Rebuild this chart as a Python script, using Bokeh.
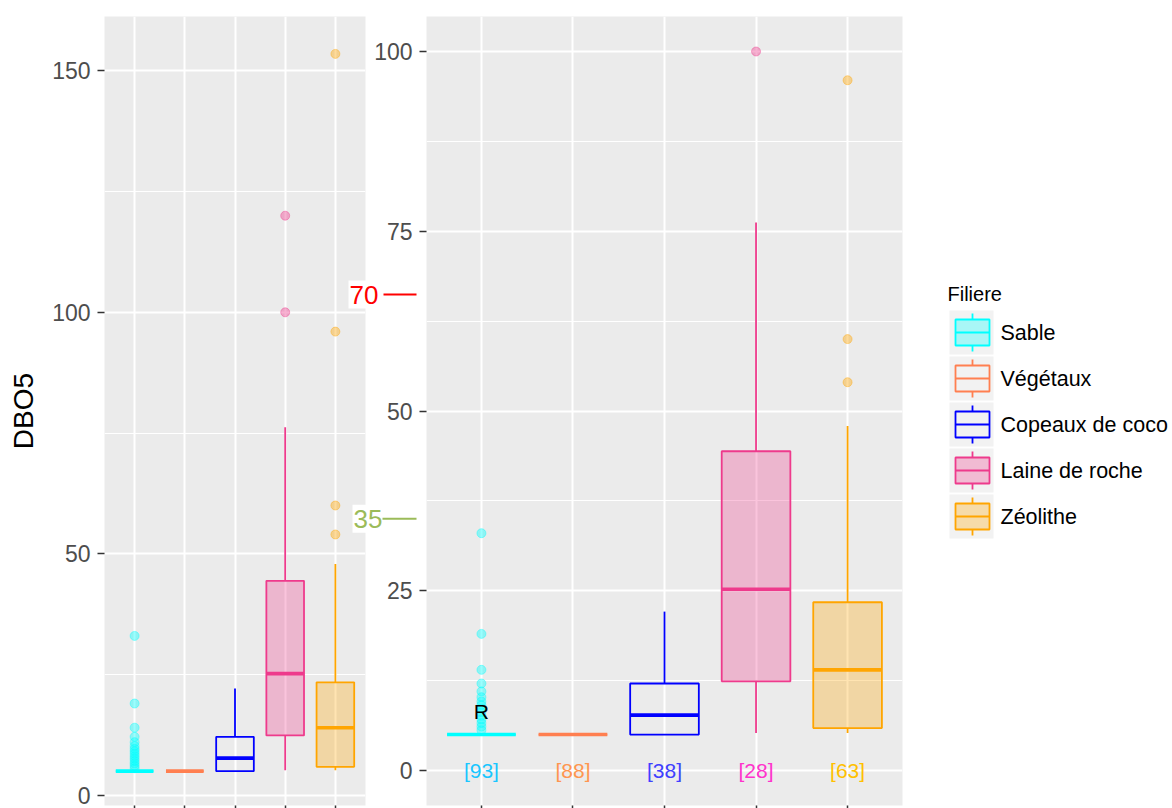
from bokeh.plotting import figure
from bokeh.layouts import row
from bokeh.models import Range1d, FixedTicker
from bokeh.core.properties import value
from bokeh.embed import file_html
from bokeh.resources import INLINE

# ---------------- data ----------------
categories = ["Sable", "Végétaux", "Copeaux de coco", "Laine de roche", "Zéolithe"]
line_colors = ["#00FFFF", "#FF7F50", "#0000FF", "#EE3A8C", "#FFA500"]
fill_alphas = [0.3, 0.0, 0.0, 0.3, 0.3]

q1 = [5.0, 5.0, 5.0, 12.4, 5.9]
median = [5.0, 5.0, 7.7, 25.2, 14.0]
q3 = [5.0, 5.0, 12.1, 44.4, 23.4]
whisker_low = [5.0, 5.0, 5.0, 5.2, 5.2]
whisker_high = [5.0, 5.0, 22.1, 76.2, 47.9]

sable_outliers = [33.0, 19.0, 14.0, 12.1, 11.0, 10.2, 9.6, 9.1, 8.6, 8.1, 7.6, 7.1, 6.6, 6.1, 5.6]
vegetaux_outliers = []
copeaux_outliers = []
laine_outliers = [100.0, 120.0]
zeolithe_outliers = [54.0, 60.0, 96.0, 153.5]
all_outliers = [sable_outliers, vegetaux_outliers, copeaux_outliers, laine_outliers, zeolithe_outliers]

counts = [93, 88, 38, 28, 63]
count_colors = ["#1AC6FF", "#FF9650", "#4040FF", "#FF33CC", "#FFC000"]

r_label = "R"
r_label_y = 8.2

left_yticks = [0, 50, 100, 150]
left_yminor = [25, 75, 125]
right_yticks = [0, 25, 50, 75, 100]
right_yminor = [12.5, 37.5, 62.5, 87.5]

ann_texts = ["70", "35"]
ann_colors = ["#FF0000", "#9BBB59"]
ann_y = [66.2, 35.0]          # where the hand-placed marks sit on the right panel's scale

FONT = "Liberation Sans"
xs = [i + 1 for i in range(len(categories))]
H = 808
TOP, BOTTOM = 16, 805          # frame edges (shared by all plots of the row)


def style_panel(p, yticks, yminor):
    p.background_fill_color = "#EBEBEB"
    p.border_fill_alpha = 0
    p.outline_line_color = None
    xt = FixedTicker(ticks=xs)
    yt = FixedTicker(ticks=yticks, minor_ticks=yminor)
    p.xaxis.ticker = xt
    p.xgrid.ticker = xt
    p.yaxis.ticker = yt
    p.ygrid.ticker = yt
    p.xgrid.grid_line_color = "white"
    p.xgrid.grid_line_width = 2
    p.ygrid.grid_line_color = "white"
    p.ygrid.grid_line_width = 2
    p.ygrid.minor_grid_line_color = "white"
    p.ygrid.minor_grid_line_width = 1.1
    for ax in (p.xaxis, p.yaxis):
        ax.axis_line_color = None
        ax.minor_tick_line_color = None
        ax.major_tick_in = 0
        ax.major_tick_line_color = "#333333"
        ax.major_tick_line_width = 1.5
    p.xaxis.major_tick_out = 3
    p.xaxis.major_label_text_font_size = "0px"
    p.xaxis.major_label_standoff = 0
    p.xaxis.major_label_overrides = {x: "" for x in xs}
    p.yaxis.major_tick_out = 7
    p.yaxis.major_label_standoff = 7
    p.yaxis.major_label_text_font = FONT
    p.yaxis.major_label_text_font_size = "23px"
    p.yaxis.major_label_text_color = "#4D4D4D"


def draw_boxes(p):
    for i, vals in enumerate(all_outliers):
        if vals:
            p.scatter([xs[i]] * len(vals), vals, size=9, fill_color=line_colors[i],
                      fill_alpha=0.4, line_color=line_colors[i], line_alpha=0.4)
    p.segment(x0=xs, x1=xs, y0=q3, y1=whisker_high, line_color=line_colors, line_width=1.8)
    p.segment(x0=xs, x1=xs, y0=q1, y1=whisker_low, line_color=line_colors, line_width=1.8)
    p.vbar(x=xs, width=0.75, bottom=q1, top=q3, fill_color=line_colors, fill_alpha=fill_alphas,
           line_color=line_colors, line_width=1.8)
    p.segment(x0=[x - 0.375 for x in xs], x1=[x + 0.375 for x in xs], y0=median, y1=median,
              line_color=line_colors, line_width=3.6)


# ---------------- left panel ----------------
L_ZERO_PX, L_SCALE = 794.8, 4.83   # pixel of y=0 and px per unit
left = figure(width=368, height=H, output_backend="svg", toolbar_location=None,
              x_range=Range1d(0.4, 5.6),
              y_range=Range1d(-(BOTTOM - L_ZERO_PX) / L_SCALE, (L_ZERO_PX - TOP) / L_SCALE),
              min_border_left=104, min_border_right=3, min_border_top=TOP, min_border_bottom=H - BOTTOM)
style_panel(left, left_yticks, left_yminor)
left.yaxis.axis_label = "DBO5"
left.yaxis.axis_label_text_font = FONT
left.yaxis.axis_label_text_font_size = "28px"
left.yaxis.axis_label_text_font_style = "normal"
left.yaxis.axis_label_text_color = "#000000"
left.yaxis.axis_label_standoff = 10
draw_boxes(left)

# ---------------- right panel ----------------
R_ZERO_PX, R_SCALE = 770.0, 7.19
right_y = Range1d((R_ZERO_PX - BOTTOM) / R_SCALE, (R_ZERO_PX - TOP) / R_SCALE)

right = figure(width=570, height=H, output_backend="svg", toolbar_location=None,
               x_range=Range1d(0.4, 5.6), y_range=right_y,
               min_border_left=86, min_border_right=8, min_border_top=TOP, min_border_bottom=H - BOTTOM)
style_panel(right, right_yticks, right_yminor)
draw_boxes(right)
right.text(x=xs, y=[0] * len(xs), text=["[%d]" % c for c in counts], text_color=count_colors,
           text_font=value(FONT), text_font_size="21px", text_align="center", text_baseline="middle")
right.text(x=[xs[0]], y=[r_label_y], text=[r_label], text_color="#000000",
           text_font=value(FONT), text_font_size="21px", text_align="center", text_baseline="middle")
right.margin = (0, 0, 0, -80)

# ---------------- hand-placed threshold marks (overlay strip between panels) ----------------
annot = figure(width=80, height=H, output_backend="svg", toolbar_location=None,
               x_range=Range1d(0, 80), y_range=right_y,
               min_border=0, min_border_left=0, min_border_right=0,
               min_border_top=TOP, min_border_bottom=H - BOTTOM)
annot.axis.visible = False
annot.grid.visible = False
annot.outline_line_color = None
annot.background_fill_alpha = 0
annot.border_fill_alpha = 0
half_h = 14 / R_SCALE
ann_text_x = [9, 13]
annot.quad(left=[x - 1 for x in ann_text_x], right=[x + 30 for x in ann_text_x],
           bottom=[y - half_h for y in ann_y], top=[y + half_h for y in ann_y],
           fill_color="white", line_color=None)
annot.text(x=ann_text_x, y=ann_y, text=ann_texts, text_color=ann_colors, text_font=value(FONT),
           text_font_size="26px", text_align="left", text_baseline="middle")
annot.segment(x0=[43, 42], x1=[76, 76], y0=ann_y, y1=ann_y, line_color=ann_colors, line_width=2)
annot.margin = (0, 0, 0, -28)

# ---------------- legend ----------------
LW = 258
leg = figure(width=LW, height=H, output_backend="svg", toolbar_location=None,
             x_range=Range1d(0, LW), y_range=Range1d(BOTTOM, TOP),
             min_border=0, min_border_left=0, min_border_right=0,
             min_border_top=TOP, min_border_bottom=H - BOTTOM)
leg.axis.visible = False
leg.grid.visible = False
leg.outline_line_color = None
leg.background_fill_color = "white"
leg.border_fill_color = "white"

row_tops = [310 + 46 * i for i in range(len(categories))]
centers = [t + 22 for t in row_tops]
leg.quad(left=39, right=83, top=row_tops, bottom=[t + 44 for t in row_tops],
         fill_color="#F2F2F2", line_color=None)
leg.segment(x0=62, x1=62, y0=[c - 19 for c in centers], y1=[c - 13 for c in centers],
            line_color=line_colors, line_width=1.8)
leg.segment(x0=62, x1=62, y0=[c + 13 for c in centers], y1=[c + 19 for c in centers],
            line_color=line_colors, line_width=1.8)
leg.quad(left=45, right=79, top=[c - 13 for c in centers], bottom=[c + 13 for c in centers],
         fill_color=line_colors, fill_alpha=fill_alphas, line_color=line_colors, line_width=1.8)
leg.segment(x0=45, x1=79, y0=centers, y1=centers, line_color=line_colors, line_width=1.8)
leg.text(x=90, y=centers, text=categories, text_color="#000000", text_font=value(FONT),
         text_font_size="21.5px", text_baseline="middle", text_align="left")
leg.text(x=[37], y=[293], text=["Filiere"], text_color="#000000", text_font=value(FONT),
         text_font_size="20px", text_baseline="middle", text_align="left")

layout = row(left, annot, right, leg, spacing=0)
open("out.html", "w").write(file_html(layout, INLINE))
